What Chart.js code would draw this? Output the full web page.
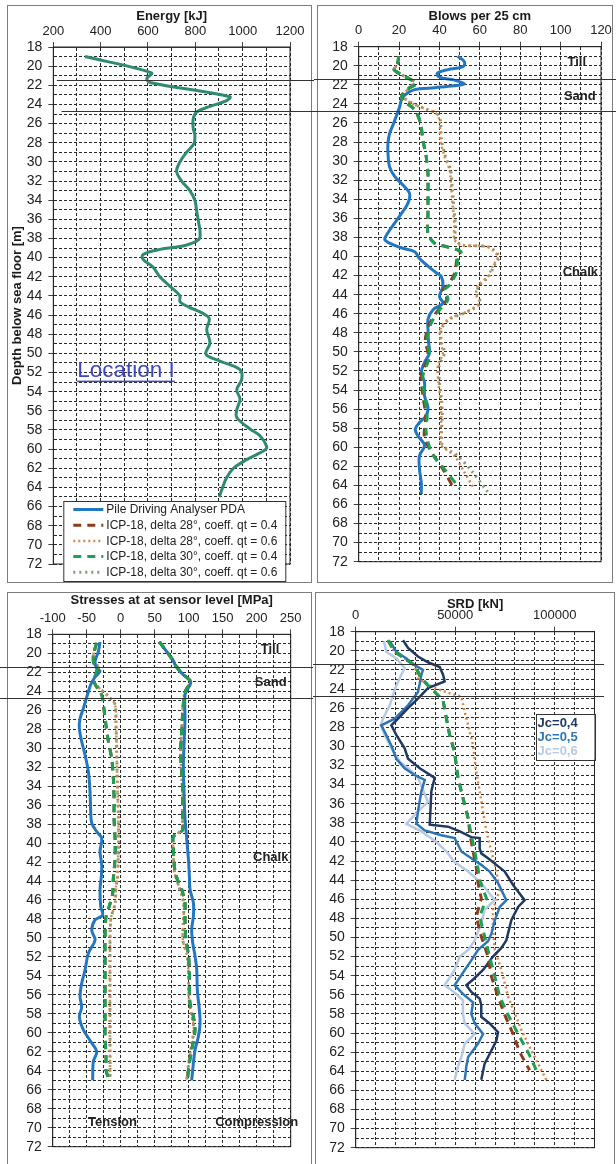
<!DOCTYPE html>
<html>
<head>
<meta charset="utf-8">
<script src="https://cdn.jsdelivr.net/npm/chart.js@4.4.0/dist/chart.umd.min.js"></script>
<style>
    body { margin: 0; background: #fff; width: 616px; height: 1164px; overflow: hidden; position: relative; }
    .box { position: absolute; border: 1px solid #7d7d7d; box-sizing: border-box; }
    canvas { position: absolute; }
</style>
</head>
<body>
<div class="box" style="left:7px;top:5px;width:305px;height:578px"></div>
<div class="box" style="left:317px;top:5px;width:296px;height:578px"></div>
<div class="box" style="left:7px;top:592px;width:305px;height:590px"></div>
<div class="box" style="left:315px;top:592px;width:300px;height:590px"></div>

<canvas id="energy" width="314" height="588" style="left:0;top:0"></canvas>
<canvas id="blows" width="302" height="588" style="left:314px;top:0"></canvas>
<canvas id="stress" width="313" height="576" style="left:0;top:588px"></canvas>
<canvas id="srd" width="303" height="576" style="left:313px;top:588px"></canvas>

<script>
const FONT = '"Liberation Sans", Arial, sans-serif';

// layer boundaries (depth, m)
const layerDepths = [21.4, 24.7];

// Energy [kJ] - [depth, value]
const energyPDA = [[19,334],[20.7,615],[21.3,595],[21.7,608],[23.2,946],[23.6,932],[24.2,862],[24.8,805],[25.5,791],[26.5,791],
    [27.2,798],[28.1,794],[29,763],[30,735],[31,721],[32,742],[33,777],[34,798],[35,805],[36.2,813],[37.3,820],[38.1,815],
    [38.7,760],[39.2,640],[39.7,578],[40.2,580],[41,622],[42,650],[43,693],[44,735],[44.6,735],[45.2,775],[45.8,830],[46.4,859],
    [47.5,848],[48.9,862],[50.1,845],[50.8,904],[51.7,989],[52.7,996],[53.8,975],[54.8,989],[55.9,975],[56.7,975],[57.9,1031],
    [58.6,1073],[59.7,1101],[60.1,1094],[61.1,1017],[62,961],[63,932],[64.3,911],[65,901]];

// Blows per 25 cm
const blowsPDA = [[19,49],[19.6,52.4],[20.1,51.6],[20.4,44.2],[20.8,38.9],[21.2,40],[21.5,47.4],[21.9,52.4],[22.1,47.4],[22.3,37.6],
    [22.5,27.7],[23.1,22.7],[23.6,21.1],[24.3,20.3],[25.3,18.6],[26.2,17],[27.1,15.3],[28.1,14.5],[29.2,14.5],[30.6,15.3],
    [31.6,17.8],[32.5,21.9],[33.4,25.2],[34.4,24.4],[35.5,21.1],[36.5,17.8],[37.5,14.5],[38.2,12.9],[38.6,15.3],[39.1,21.1],
    [39.5,27.7],[40.2,30.1],[41,34.3],[41.7,38.4],[42.1,40.9],[43.1,41.7],[44.2,40],[44.9,41.7],[45.6,36.7],[46.6,34.3],
    [47.6,34.3],[49,34.6],[50.1,35.1],[51.1,32.6],[52.2,31],[53.2,32.6],[54.6,32.6],[55.8,34.3],[56.7,33.4],[57.4,30.1],
    [58.1,28],[58.8,29.3],[59.8,32.6],[60.9,30.1],[62.3,30.1],[63.7,31],[64.9,31]];
const blows30a = [[19,19.8],[19.9,19.1],[20.4,17.5],[21.1,22.7],[21.7,27.7],[22,28],[22.3,25.2],[23.1,21.4],[23.6,21.9],[24.6,27.7],
    [26,30.6],[27.8,31.8],[29.5,33.4],[31.3,34.3],[33.4,34.3],[35.5,34.3],[37.6,34.3],[38.6,37.6],[39,44.2],[39.5,50.7],
    [40.3,49.1],[41.7,48.3],[43,45],[43.5,42.5],[44.5,44.2],[45.6,40],[47,35.9],[48.7,33.9],[50.5,35.1],[52.5,31.8],
    [54.6,32.6],[56.7,33.9],[58.4,33.4],[60.6,36.2],[62.3,42.5],[64.3,50]];
const blows28a = [[19,19.8],[19.9,19.1],[20.4,17.5],[21.1,22.7],[21.7,27.7],[22,28],[22.3,25.2],[23.1,21.4],[23.6,21.9],[24.6,27.7],
    [26,30.6],[27.8,31.8],[29.5,33.4],[31.3,34.3],[33.4,34.3],[35.5,34.3],[37.6,34.3],[38.6,37.6],[39,44],[39.5,50.2],
    [40.3,48.6],[41.7,47.6],[43,44.2],[43.5,41.8],[44.5,43.6],[45.6,39.4],[47,35.2],[48.7,33],[50.5,34.4],[52.5,31],
    [54.6,31.8],[56.7,33.2],[59,32.6],[60.9,37.2],[62.3,41.7],[64.4,47.4]];
const blows28b = [[19,19.8],[19.9,19.1],[20.4,17.5],[21.1,22.7],[21.7,27.7],[22.3,25.2],[23.2,21.9],[23.9,26],[24.5,32.6],[25,38.4],
    [25.7,40],[27.8,40.5],[29.5,42.5],[30.9,45],[32.7,45.8],[34.8,46.6],[36.8,47.4],[38.2,47.4],[38.8,50.7],[39,63.9],
    [40,68.9],[41,66.4],[42.1,63.9],[43.1,59],[44,58.2],[44.9,59.8],[45.8,53.2],[46.6,44.2],[47.6,40.5],[49,40.5],
    [50.1,41.7],[51.5,39.2],[53.2,39.5],[55,40.5],[56.7,40.9],[58.8,40.5],[59.8,40.9],[60.9,47.4],[62.5,52],[64.4,57.3]];
const blows30b = [[19,19.8],[19.9,19.1],[20.4,17.5],[21.1,22.7],[21.7,27.7],[22.3,25.2],[23.2,22.2],[23.9,26.4],[24.5,33],[25,38.8],
    [25.7,40.4],[27.8,41],[29.5,43],[30.9,45.5],[32.7,46.3],[34.8,47.1],[36.8,47.9],[38.2,47.9],[38.8,51.2],[39,64.4],
    [40,69.4],[41,67],[42.1,64.4],[43.1,59.5],[44,58.7],[44.9,60.3],[45.8,53.8],[46.6,44.8],[47.6,41],[49,41],
    [50.1,42.5],[51.5,39.8],[53.2,40],[55,41],[56.7,41.4],[58.8,41],[59.8,41.5],[60.9,49],[62.5,56],[64.7,63.9]];

// Stresses at sensor level [MPa]
const tensionPDA = [[18.8,-30.4],[19.8,-32.8],[20.9,-37.7],[21.6,-35.3],[21.9,-30.4],[22.5,-37.7],[23.3,-44.1],[24.4,-49],
    [25.8,-54.9],[26.9,-59.8],[27.9,-60.8],[29.3,-57.4],[30.7,-52.5],[32.5,-47.5],[34.6,-45.1],[36.7,-44.1],[37.9,-42.6],
    [38.8,-35.3],[39.5,-27.9],[40.9,-30.4],[42.3,-27.9],[43.5,-28.5],[44.9,-30.4],[46.7,-29.4],[47.6,-26.5],[48.1,-37.7],
    [49.2,-42.6],[50.2,-37.7],[51.6,-47.5],[53.4,-52.5],[54.8,-57.4],[56.2,-59.8],[57.3,-57.4],[58.3,-60.8],[59.7,-54.9],
    [60.8,-45.1],[62,-35.3],[63,-40.2],[65,-41.2]];
const tensionICPa = [[18.9,-35.3],[20.2,-40.2],[21.1,-39.2],[21.4,-32.8],[21.9,-35.3],[23,-39.2],[24.4,-27.9],[25.4,-25.5],
    [27.6,-21.6],[29.3,-18.1],[31.1,-13.2],[33.2,-10.8],[35.3,-9.8],[37.4,-9.8],[39.5,-8.3],[41.6,-8.3],[43.7,-10.8],
    [45.3,-11.8],[46.4,-15.7],[47.8,-21.6],[49.9,-23],[52,-23],[54.1,-23],[56.2,-23],[58.3,-23],[60.4,-23],[62.5,-21.6],
    [63.9,-21.6],[64.8,-18]];
const tensionICPb = [[18.9,-35.3],[20.2,-40.2],[21.1,-39.2],[21.4,-32.8],[21.9,-35.3],[23,-39.2],[24.7,-15.7],[25.4,-8.3],
    [27.6,-6.9],[30.4,-5.9],[33.9,-4.9],[37.4,-3.4],[40.9,-3.4],[43.7,-4.9],[44.6,-6.9],[46.4,-8.3],[48.1,-14.7],
    [53.4,-15.7],[60.4,-15.7],[65,-15.7]];
const compressionPDA = [[18.8,56.9],[20.8,77.5],[21.2,79.9],[22.1,89.7],[23,102.9],[23.7,99],[24.4,94.6],[26.9,94.6],
    [29.7,93.1],[31.8,92.2],[34.6,93.1],[37.4,94.6],[39.5,97],[41.6,99.5],[43.5,101],[44.9,102],[46.3,106.9],[47.7,106.9],
    [49.1,104.4],[50.5,105.9],[51.9,109.3],[53.3,111.8],[55.5,112.7],[57.6,115.7],[59,116.7],[60.4,114.2],[61.8,109.3],
    [63.2,106.9],[65,104.4]];
const compressionICPa = [[18.8,56.9],[20.8,77.5],[21.2,79.9],[22.1,89.7],[23,102.9],[23.7,97],[24.4,93.6],[26.2,91.2],
    [28.3,89.7],[30.4,88.2],[32.5,89.7],[34.6,91.2],[37.4,91.2],[38.6,91.2],[38.9,87.3],[39.3,77.5],[40.9,77.5],[43,79.9],
    [44.1,84.8],[44.9,89.7],[46.3,94.6],[48.5,94.6],[50.3,96.1],[51.7,99.5],[53.4,101],[55.5,101],[56.9,102],[58.3,106.9],
    [59.7,109.3],[61.8,104.4],[63.2,101],[65,98]];
const compressionICPb = [[18.8,56.9],[20.8,77.5],[21.2,79.9],[22.1,89.7],[23,102.9],[23.7,97],[24.4,93.6],[26.2,91],
    [28.3,89.4],[30.4,88],[32.5,89.4],[34.6,90.8],[37.4,90.8],[38.6,90.6],[39.3,78],[40.9,77.5],[43,79],[44.1,83.5],
    [46.3,92.5],[48.5,92],[50.3,91.5],[51.7,97.5],[53.4,99.5],[55.5,100],[56.9,101],[58.3,105],[59.7,107.5],[61.8,103],
    [63.2,100],[65,97]];

// SRD [kN]
const srdJc04 = [[18.9,23800],[19.7,26300],[20.6,31300],[21.2,36300],[21.7,42200],[22.5,43900],[23.2,44700],[23.9,36300],
    [25,31300],[26,26300],[27.1,21300],[27.8,17900],[28.8,20400],[30.2,24600],[31.3,26300],[32.3,32200],[33.3,39700],
    [34.7,38000],[36.1,37700],[38.2,37200],[38.4,46400],[38.9,52300],[39.5,58100],[39.6,62300],[40.7,62300],[41.2,63100],
    [41.7,66500],[42.4,70700],[43.1,74900],[44.5,79100],[46.1,84900],[46.8,81600],[48.2,78200],[50.3,75700],[51.1,73200],
    [52,69000],[53.4,64000],[54.4,59000],[55,55600],[55.7,58100],[56.4,62300],[57.1,63100],[58.3,63100],[59,67300],
    [59.9,71500],[60.8,70700],[62.2,67300],[63.2,64800],[64.9,63100]];
const srdJc05 = [[19,17100],[20.1,20400],[20.8,25500],[21.5,29600],[22,33800],[22.5,33000],[23.4,32200],[24.3,31300],
    [25.7,26300],[27.1,19600],[27.8,12900],[28.5,14600],[29.9,17900],[31.3,20400],[32.3,24600],[33,29600],[33.5,34700],
    [34.7,33000],[36.8,31300],[38.1,30500],[38.8,34700],[39.3,43000],[39.6,49700],[40.3,51400],[41,53100],[41.7,58100],
    [42.4,63100],[43.1,67300],[44.3,71500],[46.1,75700],[46.8,72400],[48.2,69900],[49.6,68200],[50.4,66500],[51.3,61500],
    [52.4,58100],[53.4,54800],[55,49700],[55.9,53900],[56.8,59000],[58,58100],[59,59800],[60.1,64000],[61.1,61500],
    [62.5,56500],[63.5,55600],[64.9,54800]];
const srdJc06 = [[19,14200],[20.1,15400],[20.8,20400],[21.8,24600],[22.5,22900],[23.9,19900],[25.7,17100],[27.1,13700],
    [27.8,12600],[28.8,14600],[30.2,17900],[31.6,22100],[32.6,28000],[33.3,31300],[35.8,36300],[36.8,31300],[38.1,25500],
    [38.9,33000],[40,40500],[41,45600],[42.1,49700],[43.1,56500],[44.3,63100],[46.1,69900],[47.1,64800],[48.5,63100],
    [50.3,59800],[51.3,56500],[52,52300],[53.4,49700],[55,44700],[55.9,50600],[56.6,53900],[58,53900],[59,54800],
    [60.1,59800],[61.1,54800],[62.5,53100],[63.5,51400],[64.9,49700]];
const srdICP30a = [[18.9,16200],[20.1,19600],[20.8,24600],[21.5,29600],[22.9,33000],[23.6,36300],[24.3,39700],[25.2,43900],
    [27.1,45600],[28.8,47200],[30.6,49700],[33.3,51400],[35.4,53900],[37.5,56500],[39.3,58100],[41,59800],[42.8,61500],
    [44,62300],[45.9,65700],[47.8,62300],[49.9,64800],[52,67300],[54.1,69900],[56.2,72400],[58.1,76600],[60.1,81600],
    [62,86600],[63.9,90800]];
const srdICP28a = [[18.9,16200],[20.1,19600],[20.8,24600],[21.5,29600],[22.9,33000],[23.6,36300],[24.3,39700],[25.2,43900],
    [27.1,45600],[28.8,47200],[30.6,49700],[33.3,51400],[35.4,53900],[37.5,56500],[39.3,57500],[41,59000],[42.8,60700],
    [44,61200],[45.9,63100],[47.8,60600],[49.9,63100],[52,66500],[54.1,68200],[56.2,71500],[58.1,74900],[60.1,79100],
    [62,82400],[63.9,87400]];
const srdICP28b = [[18.9,16200],[20.1,19600],[20.8,24600],[21.5,29600],[22.9,31300],[23.9,39700],[24.5,48100],[24.8,53100],
    [26.4,54800],[27.8,56500],[29.9,59000],[32.7,60600],[34.7,62300],[36.8,64000],[38.9,65700],[41,68200],[43.1,70700],
    [44,71500],[45,72400],[47.1,69000],[49.2,69000],[51.3,69900],[53.4,73200],[56.2,76600],[59.7,83300],[62.5,89900],
    [64.9,95800]];

const STYLE = {
    pda:    { color: '#2277c2', width: 3,   dash: [] },
    icp28a: { color: '#8e3b1c', width: 3,   dash: [8, 6] },
    icp28b: { color: '#d9864a', width: 2.5, dash: [2, 3] },
    icp30a: { color: '#1d9f54', width: 3,   dash: [8, 6] },
    icp30b: { color: '#7f9c72', width: 3,   dash: [2, 4] },
    energy: { color: '#2f8a72', width: 3,   dash: [] },
    jc04:   { color: '#1f3864', width: 2.5, dash: [] },
    jc05:   { color: '#2e75b6', width: 2.5, dash: [] },
    jc06:   { color: '#b8c9e6', width: 2.5, dash: [] }
};

const legendItems = [
    ['pda', 'Pile Driving Analyser PDA'],
    ['icp28a', 'ICP-18, delta 28°, coeff. qt = 0.4'],
    ['icp28b', 'ICP-18, delta 28°, coeff. qt = 0.6'],
    ['icp30a', 'ICP-18, delta 30°, coeff. qt = 0.4'],
    ['icp30b', 'ICP-18, delta 30°, coeff. qt = 0.6']
];

function series(points, key, tension) {
    const st = STYLE[key];
    return {
        data: points.map(p => ({ x: p[1], y: p[0] })),
        borderColor: st.color,
        borderWidth: st.width,
        borderDash: st.dash,
        borderCapStyle: 'butt',
        showLine: true,
        pointRadius: 0,
        fill: false,
        tension: tension
    };
}

function depthAxis(width, title) {
    return {
        type: 'linear', reverse: true, min: 18, max: 72,
        afterFit: s => { s.width = width; },
        ticks: {
            stepSize: 1, autoSkip: false, padding: 6, color: '#222',
            font: { size: 14, family: FONT },
            callback: v => (v % 2 === 0 ? v : '')
        },
        grid: {
            color: '#2a2a2a', lineWidth: 1, tickLength: 5,
            tickColor: c => (c.tick && c.tick.value % 2 !== 0 ? 'rgba(0,0,0,0)' : '#444')
        },
        border: { dash: [3, 2], color: '#444', width: 1 },
        title: {
            display: !!title, text: title || '', color: '#1a1a1a',
            font: { size: 13, weight: 'bold', family: FONT },
            padding: { top: 10, bottom: 0 }
        }
    };
}

function valueAxis(o) {
    return {
        type: 'linear', position: 'top', min: o.min, max: o.max,
        afterFit: s => { s.height = o.height; },
        ticks: {
            stepSize: o.step, autoSkip: false, maxRotation: 0, padding: 3, color: '#222',
            font: { size: 13, family: FONT },
            callback: v => o.label(v)
        },
        grid: {
            color: '#2a2a2a', lineWidth: 1, tickLength: 5,
            tickColor: c => (c.tick && o.label(c.tick.value) === '' ? 'rgba(0,0,0,0)' : '#444')
        },
        border: { dash: [3, 2], color: '#444', width: 1 },
        title: {
            display: true, text: o.title, color: '#1a1a1a',
            font: { size: 13, weight: 'bold', family: FONT },
            padding: { top: o.titlePad, bottom: 0 }
        }
    };
}

// frame, layer lines, texts, legends
const extras = {
    id: 'extras',
    beforeDatasetsDraw(chart) {
        const { ctx, chartArea: a } = chart;
        ctx.save();
        ctx.strokeStyle = '#222';
        ctx.lineWidth = 1;
        ctx.strokeRect(a.left, a.top, a.right - a.left, a.bottom - a.top);
        ctx.restore();
    },
    afterDraw(chart, args, opts) {
        const { ctx } = chart;
        const xs = chart.scales.x, ys = chart.scales.y;
        ctx.save();
        // layer boundaries
        if (opts.layers) {
            ctx.strokeStyle = '#333';
            ctx.lineWidth = 1;
            layerDepths.forEach((d, i) => {
                const y = Math.round(ys.getPixelForValue(d)) + 0.5;
                const from = opts.layers.from ? xs.getPixelForValue(opts.layers.from[i]) : 0;
                const to = opts.layers.to ? xs.getPixelForValue(opts.layers.to) : chart.width;
                ctx.beginPath();
                ctx.moveTo(from, y);
                ctx.lineTo(to, y);
                ctx.stroke();
            });
        }
        // boxes
        (opts.boxes || []).forEach(b => {
            const x1 = xs.getPixelForValue(b.x1), x2 = xs.getPixelForValue(b.x2);
            const y1 = ys.getPixelForValue(b.y1), y2 = ys.getPixelForValue(b.y2);
            ctx.fillStyle = '#fff';
            ctx.fillRect(x1, y1, x2 - x1, y2 - y1);
            ctx.strokeStyle = '#333';
            ctx.lineWidth = 1;
            ctx.strokeRect(Math.round(x1) + 0.5, Math.round(y1) + 0.5, Math.round(x2 - x1), Math.round(y2 - y1));
        });
        // texts
        (opts.texts || []).forEach(t => {
            const x = xs.getPixelForValue(t.x), y = ys.getPixelForValue(t.y);
            ctx.font = t.font;
            ctx.fillStyle = t.color || '#222';
            ctx.textAlign = t.align || 'center';
            ctx.textBaseline = 'middle';
            ctx.fillText(t.text, x, y);
            if (t.underline) {
                const w = ctx.measureText(t.text).width;
                const x0 = t.align === 'left' ? x : x - w / 2;
                ctx.fillRect(x0, y + t.underline, w, 1.5);
            }
        });
        // series legend
        if (opts.legend) {
            const a = chart.chartArea;
            const left = a.left + 10, top = a.bottom - 63, w = 222, h = 80;
            ctx.fillStyle = '#fff';
            ctx.fillRect(left, top, w, h);
            ctx.strokeStyle = '#333';
            ctx.lineWidth = 1;
            ctx.strokeRect(left + 0.5, top + 0.5, w, h);
            ctx.font = '12px ' + FONT;
            ctx.textAlign = 'left';
            ctx.textBaseline = 'middle';
            legendItems.forEach((it, i) => {
                const st = STYLE[it[0]];
                const y = top + 8.5 + i * 15.7;
                ctx.strokeStyle = st.color;
                ctx.lineWidth = st.width;
                ctx.setLineDash(st.dash);
                ctx.beginPath();
                ctx.moveTo(left + 10, y);
                ctx.lineTo(left + 40, y);
                ctx.stroke();
                ctx.setLineDash([]);
                ctx.fillStyle = '#222';
                ctx.fillText(it[1], left + 43, y + 0.5);
            });
        }
        ctx.restore();
    }
};

function makeChart(id, datasets, axes, pad, extraOpts) {
    return new Chart(document.getElementById(id), {
        type: 'scatter',
        data: { datasets: datasets },
        options: {
            responsive: false,
            animation: false,
            devicePixelRatio: 1,
            layout: { padding: { left: 0, top: 0, right: pad.right, bottom: pad.bottom } },
            scales: axes,
            plugins: {
                legend: { display: false },
                tooltip: { enabled: false },
                extras: extraOpts
            }
        },
        plugins: [extras]
    });
}

const boldLabel = 'bold 13px ' + FONT;

makeChart('energy',
    [series(energyPDA, 'energy', 0.35)],
    {
        x: valueAxis({ min: 200, max: 1200, step: 100, height: 47, title: 'Energy [kJ]', titlePad: 9,
            label: v => (v % 200 === 0 ? v : '') }),
        y: depthAxis(53.3, 'Depth below sea floor [m]')
    },
    { right: 24, bottom: 24 },
    {
        layers: { from: [215, 235] },
        legend: true,
        texts: [{ x: 507, y: 51.8, text: 'Location I', font: '22.5px ' + FONT, color: '#3d48c0', underline: 10 }]
    });

makeChart('blows',
    [series(blows30a, 'icp30a', 0.3), series(blows28a, 'icp28a', 0.3), series(blowsPDA, 'pda', 0.35),
     series(blows28b, 'icp28b', 0.3), series(blows30b, 'icp30b', 0.3)],
    {
        x: valueAxis({ min: 0, max: 120, step: 10, height: 46.7, title: 'Blows per 25 cm', titlePad: 9,
            label: v => (v % 20 === 0 ? v : '') }),
        y: depthAxis(44.7)
    },
    { right: 15, bottom: 26.3 },
    {
        layers: {},
        texts: [
            { x: 108, y: 19.6, text: 'Till', font: boldLabel },
            { x: 109.5, y: 23.2, text: 'Sand', font: boldLabel },
            { x: 109.8, y: 41.65, text: 'Chalk', font: boldLabel }
        ]
    });

makeChart('stress',
    [series(tensionICPa, 'icp30a', 0.3), series(tensionICPa, 'icp28a', 0.3), series(tensionPDA, 'pda', 0.35),
     series(tensionICPb, 'icp28b', 0.3), series(tensionICPb, 'icp30b', 0.3),
     series(compressionICPa, 'icp30a', 0.3), series(compressionICPa, 'icp28a', 0.3), series(compressionPDA, 'pda', 0.35),
     series(compressionICPb, 'icp28b', 0.3), series(compressionICPb, 'icp30b', 0.3)],
    {
        x: valueAxis({ min: -100, max: 250, step: 25, height: 46.3, title: 'Stresses at at sensor level [MPa]', titlePad: 4.2,
            label: v => (v % 50 === 0 ? v : '') }),
        y: depthAxis(52.7)
    },
    { right: 22.3, bottom: 17.3 },
    {
        layers: {},
        texts: [
            { x: 219.6, y: 19.55, text: 'Till', font: boldLabel },
            { x: 220.6, y: 23.06, text: 'Sand', font: boldLabel },
            { x: 220.6, y: 41.5, text: 'Chalk', font: boldLabel },
            { x: -12, y: 69.4, text: 'Tension', font: boldLabel },
            { x: 200, y: 69.4, text: 'Compression', font: boldLabel }
        ]
    });

makeChart('srd',
    [series(srdICP30a, 'icp30a', 0), series(srdICP28a, 'icp28a', 0), series(srdJc04, 'jc04', 0),
     series(srdJc05, 'jc05', 0), series(srdJc06, 'jc06', 0), series(srdICP28b, 'icp28b', 0)],
    {
        x: valueAxis({ min: 0, max: 120000, step: 10000, height: 43.7, title: 'SRD [kN]', titlePad: 8.5,
            label: v => (v % 50000 === 0 && v <= 100000 ? v : '') }),
        y: depthAxis(42.7)
    },
    { right: 21.5, bottom: 16.3 },
    {
        layers: { to: 124800 },
        boxes: [{ x1: 90600, x2: 120000, y1: 26.6, y2: 31.4 }],
        texts: [
            { x: 91400, y: 27.6, text: 'Jc=0,4', font: boldLabel, color: STYLE.jc04.color, align: 'left' },
            { x: 91400, y: 29.1, text: 'Jc=0,5', font: boldLabel, color: STYLE.jc05.color, align: 'left' },
            { x: 91400, y: 30.56, text: 'Jc=0,6', font: boldLabel, color: STYLE.jc06.color, align: 'left' }
        ]
    });
</script>
</body>
</html>
